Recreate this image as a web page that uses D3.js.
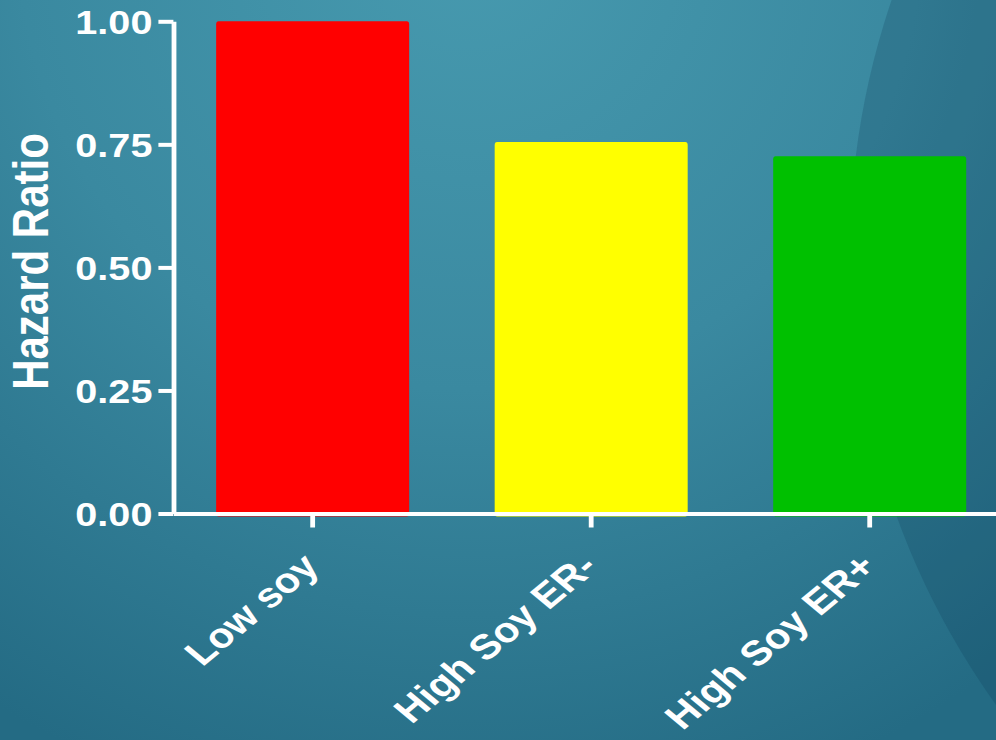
<!DOCTYPE html>
<html>
<head>
<meta charset="utf-8">
<script src="https://cdn.jsdelivr.net/npm/d3@7"></script>
<style>
  body { margin: 0; overflow: hidden; }
  text { font-family: "Liberation Sans", Arial, sans-serif; font-weight: bold; fill: #fff; }
</style>
</head>
<body>
<script>
var categories = ["Low soy", "High Soy ER-", "High Soy ER+"];
var hazardRatio = [1.00, 0.755, 0.726];
var barColors = ["#ff0000", "#ffff00", "#00c000"];
var yTicks = [0, 0.25, 0.5, 0.75, 1];
var yTitle = "Hazard Ratio";

var W = 996, H = 740;
// the slide stretches the whole chart sideways
var sx = 1.2;

var svg = d3.select("body").append("svg")
    .attr("width", W)
    .attr("height", H);

var defs = svg.append("defs");
var grad = defs.append("radialGradient")
    .attr("id", "bg")
    .attr("gradientUnits", "userSpaceOnUse")
    .attr("cx", 470).attr("cy", -60).attr("r", 900);
grad.append("stop").attr("offset", 0).attr("stop-color", "#479aaf");
grad.append("stop").attr("offset", 0.5).attr("stop-color", "#3a89a0");
grad.append("stop").attr("offset", 1).attr("stop-color", "#246b84");

svg.append("rect")
    .attr("width", W).attr("height", H)
    .attr("fill", "url(#bg)");

// big darker circle on the right
svg.append("circle")
    .attr("cx", 1628).attr("cy", 251).attr("r", 778)
    .attr("fill", "#0f3a55")
    .attr("opacity", 0.22);

var g = svg.append("g")
    .attr("transform", "scale(" + sx + ",1)");

var x = d3.scaleBand()
    .domain(categories)
    .range([144.5, 144.5 + 3 * 232.1])
    .paddingInner(0.307)
    .paddingOuter(0.1535);

var y = d3.scaleLinear()
    .domain([0, 1])
    .range([513.5, 21.3]);

g.selectAll(".bar")
    .data(categories)
    .enter().append("rect")
    .attr("class", "bar")
    .attr("x", function(d) { return x(d); })
    .attr("width", x.bandwidth())
    .attr("y", function(d, i) { return y(hazardRatio[i]); })
    .attr("height", function(d, i) { return y(0) - y(hazardRatio[i]) + 3; })
    .attr("rx", 2).attr("ry", 3)
    .attr("fill", function(d, i) { return barColors[i]; });

var xAxis = g.append("g")
    .attr("transform", "translate(0," + y(0) + ")")
    .call(d3.axisBottom(x).tickSize(14).tickSizeOuter(0));

xAxis.selectAll("text")
    .attr("y", 0)
    .attr("dy", "0.32em")
    .attr("text-anchor", "end")
    .attr("transform", "translate(-1,47) rotate(-45)")
    .style("font-size", "35px");

var yAxis = g.append("g")
    .attr("transform", "translate(144.5,0)")
    .call(d3.axisLeft(y).tickValues(yTicks).tickFormat(d3.format(".2f"))
        .tickSize(12.5).tickSizeOuter(0).tickPadding(5));

yAxis.selectAll("text")
    .attr("dy", "0.36em")
    .style("font-size", "33px");

g.selectAll(".domain, .tick line")
    .attr("stroke", "#fff")
    .attr("stroke-width", 4);

g.append("text")
    .attr("text-anchor", "middle")
    .attr("transform", "translate(40,261.5) rotate(-90)")
    .style("font-size", "42px")
    .text(yTitle);
</script>
</body>
</html>
